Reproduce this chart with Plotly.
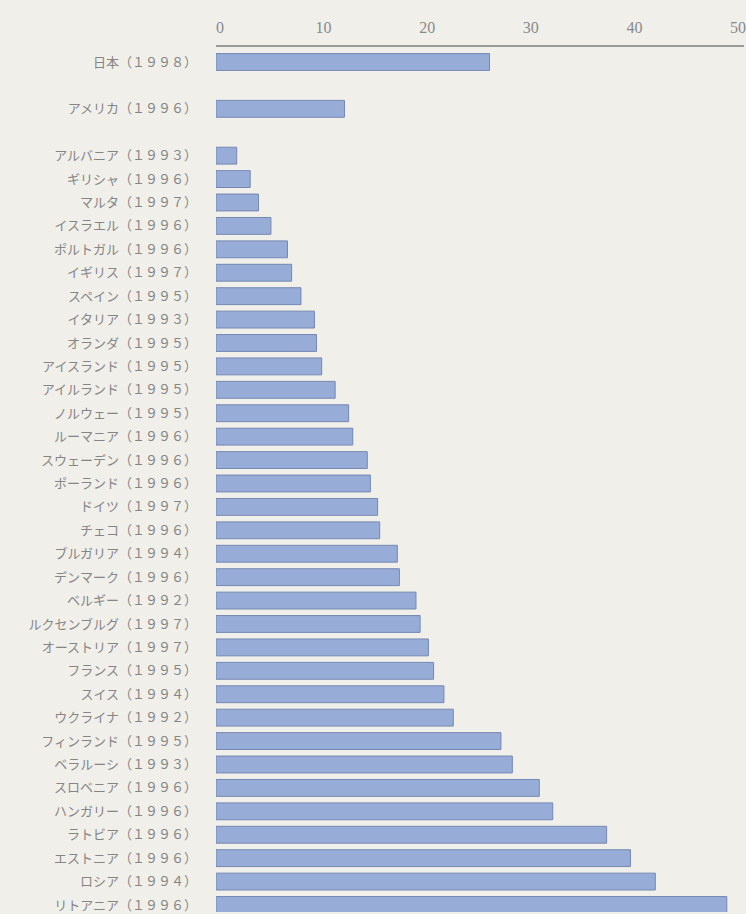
import plotly.graph_objects as go

# Reference countries (shown first, separated by blank rows)
ref_countries = ["日本", "アメリカ"]
ref_years = [1998, 1996]
ref_values = [26.4, 12.4]

# European countries, ascending order
eu_countries = [
    "アルバニア", "ギリシャ", "マルタ", "イスラエル", "ポルトガル", "イギリス",
    "スペイン", "イタリア", "オランダ", "アイスランド", "アイルランド", "ノルウェー",
    "ルーマニア", "スウェーデン", "ポーランド", "ドイツ", "チェコ", "ブルガリア",
    "デンマーク", "ベルギー", "ルクセンブルグ", "オーストリア", "フランス", "スイス",
    "ウクライナ", "フィンランド", "ベラルーシ", "スロベニア", "ハンガリー", "ラトビア",
    "エストニア", "ロシア", "リトアニア",
]
eu_years = [
    1993, 1996, 1997, 1996, 1996, 1997,
    1995, 1993, 1995, 1995, 1995, 1995,
    1996, 1996, 1996, 1997, 1996, 1994,
    1996, 1992, 1997, 1997, 1995, 1994,
    1992, 1995, 1993, 1996, 1996, 1996,
    1996, 1994, 1996,
]
eu_values = [
    2.0, 3.3, 4.1, 5.3, 6.9, 7.3,
    8.2, 9.5, 9.7, 10.2, 11.5, 12.8,
    13.2, 14.6, 14.9, 15.6, 15.8, 17.5,
    17.7, 19.3, 19.7, 20.5, 21.0, 22.0,
    22.9, 27.5, 28.6, 31.2, 32.5, 37.7,
    40.0, 42.4, 49.3,
]

x_ticks = [0, 10, 20, 30, 40, 50]

FW = str.maketrans("0123456789", "０１２３４５６７８９")


def label(name, year):
    return f"{name}（{str(year).translate(FW)}）"


# Build the row list: Japan, blank, USA, blank, then Europe
labels, values = [], []
labels += [label(ref_countries[0], ref_years[0]), " "]
values += [ref_values[0], None]
labels += [label(ref_countries[1], ref_years[1]), "  "]
values += [ref_values[1], None]
for n, yr, v in zip(eu_countries, eu_years, eu_values):
    labels.append(label(n, yr))
    values.append(v)

n_rows = len(labels)

fig = go.Figure(
    go.Bar(
        x=values,
        y=labels,
        orientation="h",
        marker=dict(color="#98acd8", line=dict(color="#7588b2", width=1)),
        hoverinfo="skip",
    )
)

bg = "#f0efea"
fig.update_layout(
    width=746,
    height=914,
    margin=dict(l=216, r=0, t=47, b=0),
    paper_bgcolor=bg,
    plot_bgcolor=bg,
    bargap=0.28,
    showlegend=False,
    xaxis=dict(
        side="top",
        range=[0, 50.96],
        tickvals=x_ticks,
        ticktext=[str(t) for t in x_ticks],
        showgrid=False,
        zeroline=False,
        showline=True,
        linecolor="#9a9a9a",
        linewidth=2,
        ticks="",
        ticklabelshift=4,
        ticklabelstandoff=6,
        ticklabeloverflow="allow",
        tickfont=dict(family="Liberation Serif", size=16, color="#8a8a8a"),
    ),
    yaxis=dict(
        type="category",
        categoryorder="array",
        categoryarray=labels,
        range=[n_rows - 0.7, -0.64],
        showgrid=False,
        zeroline=False,
        showline=False,
        ticks="",
        ticklabelstandoff=18,
        tickfont=dict(family="Noto Sans CJK JP", size=13, color="#858585"),
    ),
)

fig.write_html("out.html")
